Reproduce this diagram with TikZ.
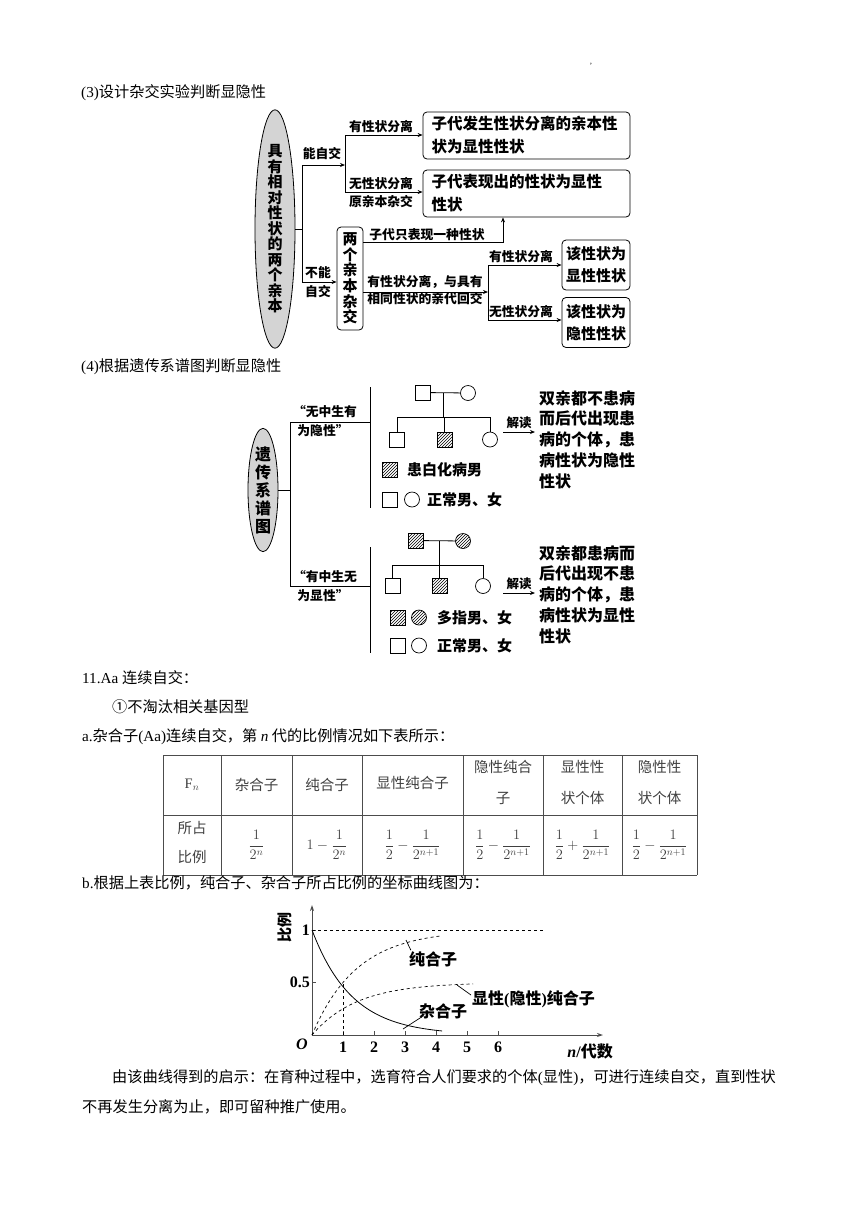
\documentclass[tikz,border=0pt]{standalone}
\usepackage{amsmath}
\usepackage{fontspec}
\setmainfont{Liberation Serif}
\newfontfamily\cjk{Noto Sans CJK SC}
\usepackage{tikz}
\usetikzlibrary{arrows.meta,shapes.geometric,patterns}

\tikzset{
  bodyline/.style={anchor=west, inner sep=0pt, font=\fontsize{15.2}{29}\selectfont\cjk},
  tag/.style={inner sep=0pt, font=\fontsize{12.8}{15}\selectfont\cjk\bfseries},
  rbox/.style={draw, rounded corners=4pt, line width=0.8pt, inner sep=0pt},
  oval/.style={ellipse, draw, fill=black!17, line width=0.8pt, inner sep=0pt, align=center},
  ln/.style={line width=0.8pt},
  arr/.style={ln, -{Stealth[length=5pt,width=4pt]}},
  male/.style={draw, minimum size=15pt, inner sep=0pt, line width=0.7pt},
  female/.style={circle, draw, minimum size=15pt, inner sep=0pt, line width=0.7pt},
  ill/.style={pattern=north east lines},
  note/.style={anchor=north west, inner sep=0pt, align=left,
    font=\fontsize{16}{20.8}\selectfont\cjk\bfseries},
  legend/.style={anchor=west, inner sep=0pt, font=\fontsize{15}{15}\selectfont\cjk\bfseries},
  cell/.style={inner sep=0pt, align=center, text=black!75,
    font=\fontsize{14.5}{31}\selectfont\cjk},
  tab/.style={line width=0.8pt, draw=black!70},
  curvelbl/.style={inner sep=0pt, font=\fontsize{16}{16}\selectfont\cjk\bfseries},
  tick/.style={inner sep=0pt, font=\fontsize{16}{16}\selectfont\rmfamily\bfseries}
}

\begin{document}
\begin{tikzpicture}[x=1pt, y=-1pt]
\useasboundingbox (0,0) rectangle (860,1216);
\node[inner sep=0pt, font=\fontsize{8}{8}\selectfont] (mark) at (591,66) {'};

% (3) cross experiment
\node[bodyline] (h3) at (81,93) {{\rmfamily (3)}设计杂交实验判断显隐性};
\node[oval, minimum width=40pt, minimum height=228pt,
  font=\fontsize{15}{15.5}\selectfont\cjk\bfseries] (par) at (275,229)
  {具\\有\\相\\对\\性\\状\\的\\两\\个\\亲\\本};
\node[rbox, minimum width=207pt, minimum height=47pt, inner xsep=8.5pt,
  text width=190pt, align=left, font=\fontsize{15.5}{23}\selectfont\cjk\bfseries]
  (b1) at (526.5,135.5) {子代发生性状分离的亲本性\\状为显性性状};
\node[rbox, minimum width=207pt, minimum height=47pt, inner xsep=8.5pt,
  text width=190pt, align=left, font=\fontsize{15.5}{23}\selectfont\cjk\bfseries]
  (b2) at (526.5,193.5) {子代表现出的性状为显性\\性状};
\node[rbox, minimum width=26pt, minimum height=103pt, align=center,
  font=\fontsize{15}{15.6}\selectfont\cjk\bfseries] (cross) at (350,278.5)
  {两\\个\\亲\\本\\杂\\交};
\node[rbox, minimum width=68pt, minimum height=50pt, align=center,
  font=\fontsize{15}{22}\selectfont\cjk\bfseries] (b4) at (596,265) {该性状为\\显性性状};
\node[rbox, minimum width=68pt, minimum height=50pt, align=center,
  font=\fontsize{15}{22}\selectfont\cjk\bfseries] (b5) at (596,322.5) {该性状为\\隐性性状};

\coordinate (j1t) at (302,165); \coordinate (j1b) at (302,282);
\coordinate (j2) at (345,165);
\coordinate (j2t) at (345,135); \coordinate (j2b) at (345,192);
\coordinate (k1) at (503,242);
\coordinate (k2) at (488,292);
\coordinate (k2t) at (488,265); \coordinate (k2b) at (488,320);
\draw[ln] (par.east) -- (par.east -| j1t);
\draw[ln] (j1t) -- (j1b);
\draw[arr] (j1t) -- (j2);
\draw[ln] (j2t) -- (j2b);
\draw[arr] (j2t) -- (j2t -| b1.west);
\draw[arr] (j2b) -- (j2b -| b2.west);
\draw[arr] (j1b) -- (j1b -| cross.west);
\draw[arr] (cross.east |- k1) -- (k1) -- (k1 |- b2.south);
\draw[arr] (cross.east |- k2) -- (k2);
\draw[ln] (k2t) -- (k2b);
\draw[arr] (k2t) -- (k2t -| b4.west);
\draw[arr] (k2b) -- (k2b -| b5.west);

\node[tag] (t1) at (322,154) {能自交};
\node[tag] (t2) at (381,127) {有性状分离};
\node[tag] (t3) at (381,184) {无性状分离};
\node[tag] (t4) at (381,202) {原亲本杂交};
\node[tag] (t5) at (318,273) {不能};
\node[tag] (t6) at (318,292) {自交};
\node[tag] (t7) at (427,235) {子代只表现一种性状};
\node[tag] (t8) at (425,282) {有性状分离，与具有};
\node[tag] (t9) at (425,299) {相同性状的亲代回交};
\node[tag] (t10) at (521,257) {有性状分离};
\node[tag] (t11) at (521,312) {无性状分离};

% (4) pedigree
\node[bodyline] (h4) at (81,367) {{\rmfamily (4)}根据遗传系谱图判断显隐性};
\node[oval, minimum width=30pt, minimum height=107pt,
  font=\fontsize{16}{18}\selectfont\cjk\bfseries] (ped) at (263,490)
  {遗\\传\\系\\谱\\图};
\coordinate (p1t) at (290,422); \coordinate (p1b) at (290,586);
\coordinate (s1) at (370,422); \coordinate (s2) at (370,586);
\draw[ln] (ped.east) -- (ped.east -| p1t);
\draw[ln] (p1t) -- (p1b);
\draw[ln] (p1t) -- (s1);
\draw[ln] (p1b) -- (s2);
\draw[ln] (370,387) -- (370,508);
\draw[ln] (370,547) -- (370,653);
\node[tag] (q1) at (325,412) {“无中生有};
\node[tag] (q2) at (323,431) {为隐性”};
\node[tag] (q3) at (325,577) {“有中生无};
\node[tag] (q4) at (323,596) {为显性”};

% recessive family
\node[male] (f1) at (422.5,392.5) {};
\node[female] (m1) at (468,393) {};
\coordinate (d1) at (443,393); \coordinate (d1b) at (443,417);
\node[male] (c11) at (397,439.5) {};
\node[male, ill] (c12) at (444.5,439.5) {};
\node[female] (c13) at (490,439.5) {};
\draw[ln] (f1) -- (m1);
\draw[ln] (d1) -- (d1b);
\draw[ln] (c11.north |- d1b) -- (c13.north |- d1b);
\foreach \c in {c11,c12,c13} \draw[ln] (\c.north |- d1b) -- (\c.north);
\coordinate (r1a) at (503,432); \coordinate (r1b) at (535,432);
\draw[arr] (r1a) -- (r1b) node[midway, above=3pt, inner sep=0pt,
  font=\fontsize{12.5}{12.5}\selectfont\cjk\bfseries] {解读};
\node[note] (n1) at (539,390) {双亲都不患病\\而后代出现患\\病的个体，患\\病性状为隐性\\性状};
\node[male, ill] (g1) at (389.5,470) {};
\node[legend] (g1t) at (407,470) {患白化病男};
\node[male] (g2) at (389.5,499.5) {};
\node[female] (g3) at (412,499.5) {};
\node[legend] (g3t) at (427,499.5) {正常男、女};

% dominant family
\node[male, ill] (f2) at (415.5,540.5) {};
\node[female, ill] (m2) at (463,541) {};
\coordinate (d2) at (439,541); \coordinate (d2b) at (439,565);
\node[male] (c21) at (392.5,585.5) {};
\node[male, ill] (c22) at (439.5,585.5) {};
\node[female] (c23) at (483,586) {};
\draw[ln] (f2) -- (m2);
\draw[ln] (d2) -- (d2b);
\draw[ln] (c21.north |- d2b) -- (c23.north |- d2b);
\foreach \c in {c21,c22,c23} \draw[ln] (\c.north |- d2b) -- (\c.north);
\coordinate (r2a) at (503,593); \coordinate (r2b) at (535,593);
\draw[arr] (r2a) -- (r2b) node[midway, above=3pt, inner sep=0pt,
  font=\fontsize{12.5}{12.5}\selectfont\cjk\bfseries] {解读};
\node[note] (n2) at (539,545) {双亲都患病而\\后代出现不患\\病的个体，患\\病性状为显性\\性状};
\node[male, ill] (g4) at (397.5,617.5) {};
\node[female, ill] (g5) at (419,617.5) {};
\node[legend] (g5t) at (437,617.5) {多指男、女};
\node[male] (g6) at (397.5,645.5) {};
\node[female] (g7) at (419,645.5) {};
\node[legend] (g7t) at (437,645.5) {正常男、女};

% 11. Aa selfing
\node[bodyline] (s11) at (82,678) {{\rmfamily 11.Aa }连续自交：};
\node[bodyline] (s12) at (112,707) {①不淘汰相关基因型};
\node[bodyline] (s13) at (82,737) {{\rmfamily a.}杂合子{\rmfamily (Aa)}连续自交，第 {\rmfamily\itshape n} 代的比例情况如下表所示：};

% table
\foreach \x in {163,221,292,362,463,543,622,697}
  \draw[tab] (\x,755) -- (\x,875);
\foreach \y in {755,815,875}
  \draw[tab] (163,\y) -- (697,\y);
\node[cell] (hd1) at (192,785) {{\rmfamily F}$_{n}$};
\node[cell] (hd2) at (256.5,785) {杂合子};
\node[cell] (hd3) at (327,785) {纯合子};
\node[cell] (hd4) at (412.5,783) {显性纯合子};
\node[cell] (hd5) at (503,782) {隐性纯合\\子};
\node[cell] (hd6) at (582.5,782) {显性性\\状个体};
\node[cell] (hd7) at (659.5,782) {隐性性\\状个体};
\node[cell, font=\fontsize{14.5}{29}\selectfont\cjk] (rw1) at (192,842.5) {所占\\比例};
\node[cell] (rw2) at (256.5,845) {$\dfrac{1}{2^{n}}$};
\node[cell] (rw3) at (327,845) {$1-\dfrac{1}{2^{n}}$};
\node[cell] (rw4) at (412.5,845) {$\dfrac{1}{2}-\dfrac{1}{2^{n+1}}$};
\node[cell] (rw5) at (503,845) {$\dfrac{1}{2}-\dfrac{1}{2^{n+1}}$};
\node[cell] (rw6) at (582.5,845) {$\dfrac{1}{2}+\dfrac{1}{2^{n+1}}$};
\node[cell] (rw7) at (659.5,845) {$\dfrac{1}{2}-\dfrac{1}{2^{n+1}}$};

\node[bodyline] (s14) at (82,883) {{\rmfamily b.}根据上表比例，纯合子、杂合子所占比例的坐标曲线图为：};

% curves
\coordinate (org) at (312,1035);
\draw[line width=1pt, black!70, -{Stealth[length=6pt,width=4pt]}] (org) -- (312,905);
\draw[line width=1pt, black!70, -{Stealth[length=6pt,width=4pt]}] (org) -- (603,1035);
\begin{scope}[shift={(312,1035)}, x=31pt, y=105pt]
  \foreach \n in {1,...,6}
    \draw[line width=0.8pt, black!70] (\n,0) -- (\n,0.04);
  \draw[line width=0.8pt, black!70] (0,1) -- (0.12,1);
  \draw[line width=0.8pt, black!70] (0,0.5) -- (0.12,0.5);
  \draw[dashed, line width=0.7pt] (0,1) -- (7.45,1);
  \draw[dashed, line width=0.7pt] (1,0) -- (1,0.5);
  \draw[line width=0.8pt] plot[domain=0:4.2, samples=60] (\x,{pow(0.46,\x)});
  \draw[dashed, line width=0.7pt] plot[domain=0:4.2, samples=60] (\x,{1-pow(0.5,\x)});
  \draw[dashed, line width=0.7pt] plot[domain=0:5.2, samples=60] (\x,{0.5-0.5*pow(0.5,\x)});
\end{scope}
\node[tick, anchor=east] (y1) at (310,930) {1};
\node[tick, anchor=east] (y05) at (310,982) {0.5};
\node[tick, font=\fontsize{16}{16}\selectfont\rmfamily\bfseries\itshape] (o) at (302,1044) {O};
\foreach \n in {1,...,6}
  \node[tick] (x\n) at ({312+31*\n},1047) {\n};
\node[inner sep=0pt, anchor=east, font=\fontsize{16}{16}\selectfont\cjk\bfseries] (xl) at (613,1051)
  {{\rmfamily\itshape n}{\rmfamily /}代数};
\node[inner sep=0pt, rotate=90, font=\fontsize{15}{15}\selectfont\cjk\bfseries] (yl) at (285,927) {比例};
\node[curvelbl] (lpure) at (433,959) {纯合子};
\node[curvelbl, anchor=west] (ldom) at (472,999) {显性{\rmfamily\bfseries (}隐性{\rmfamily\bfseries )}纯合子};
\node[curvelbl] (lhet) at (443,1011) {杂合子};
\coordinate (cpure) at (406,940);
\coordinate (cdom) at (457,985);
\coordinate (chet) at (403,1029);
\draw[line width=0.7pt] (lpure.north west) ++(2,-1) -- (cpure);
\draw[line width=0.7pt] (ldom.west) ++(-1,-4) -- (cdom);
\draw[line width=0.7pt] (lhet.south west) ++(3,-2) -- (chet);

\node[bodyline] (s15) at (112,1078) {由该曲线得到的启示：在育种过程中，选育符合人们要求的个体{\rmfamily (}显性{\rmfamily )}，可进行连续自交，直到性状};
\node[bodyline] (s16) at (82,1107) {不再发生分离为止，即可留种推广使用。};
\end{tikzpicture}
\end{document}
